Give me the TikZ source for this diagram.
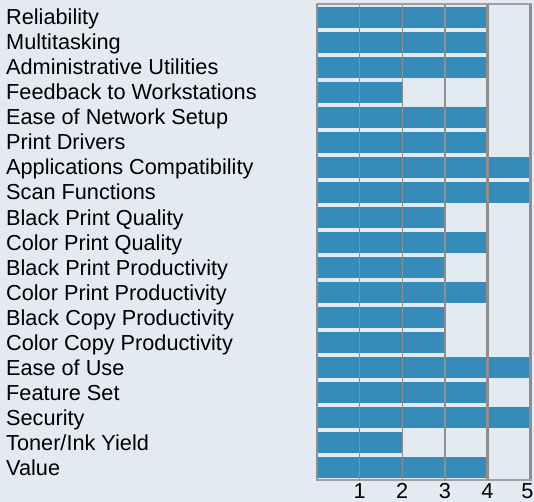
\documentclass[tikz,border=0pt]{standalone}
\usepackage{fontspec}
\setmainfont{Liberation Sans}
\definecolor{bgc}{HTML}{E4EAF1}
\definecolor{barc}{HTML}{378BB8}
\definecolor{gridc}{HTML}{8E8E8E}
\begin{document}
\begin{tikzpicture}[x=1bp,y=-1bp,
  lab/.style={anchor=base west,inner sep=0pt,font=\fontsize{21.7bp}{26bp}\selectfont,text=black},
  num/.style={anchor=base,inner sep=0pt,font=\fontsize{21.7bp}{26bp}\selectfont,text=black},
  barstyle/.style={fill=barc,draw=none},
  thin grid/.style={draw=gridc,line width=1.4bp},
  thick grid/.style={draw=gridc,line width=2.2bp}]
\fill[bgc] (0,0) rectangle (534,502);
\useasboundingbox (0,0) rectangle (534,502);
\foreach \lab/\val [count=\i from 0] in {Reliability/4, Multitasking/4, Administrative Utilities/4, Feedback to Workstations/2, Ease of Network Setup/4, Print Drivers/4, Applications Compatibility/5, Scan Functions/5, Black Print Quality/3, Color Print Quality/4, Black Print Productivity/3, Color Print Productivity/4, Black Copy Productivity/3, Color Copy Productivity/3, Ease of Use/5, Feature Set/4, Security/5, {Toner/Ink Yield}/2, Value/4}{
  \node[lab] (lab\i) at (6,{25+25*\i}) {\lab};
  \fill[barstyle] (317,{7+25*\i}) rectangle ({317+42.6*\val},{28+25*\i});
}
\foreach \k in {1,2,3}{
  \draw[thin grid] ({317+42.6*\k},4) -- ({317+42.6*\k},480);
}
\draw[thick grid] ({317+42.6*4},4) -- ({317+42.6*4},480);
\draw[thick grid] (317,4) -- (317,481);
\draw[thick grid] (530.5,3) -- (530.5,481);
\draw[draw=gridc!85,line width=2bp] (316,4) -- (531.5,4);
\draw[draw=gridc!85,line width=2bp] (316,480) -- (531.5,480);
\foreach \k/\xx in {1/359.6,2/402.2,3/444.8,4/487.4,5/527.5}{
  \node[num] (n\k) at (\xx,498) {\k};
}
\end{tikzpicture}
\end{document}
